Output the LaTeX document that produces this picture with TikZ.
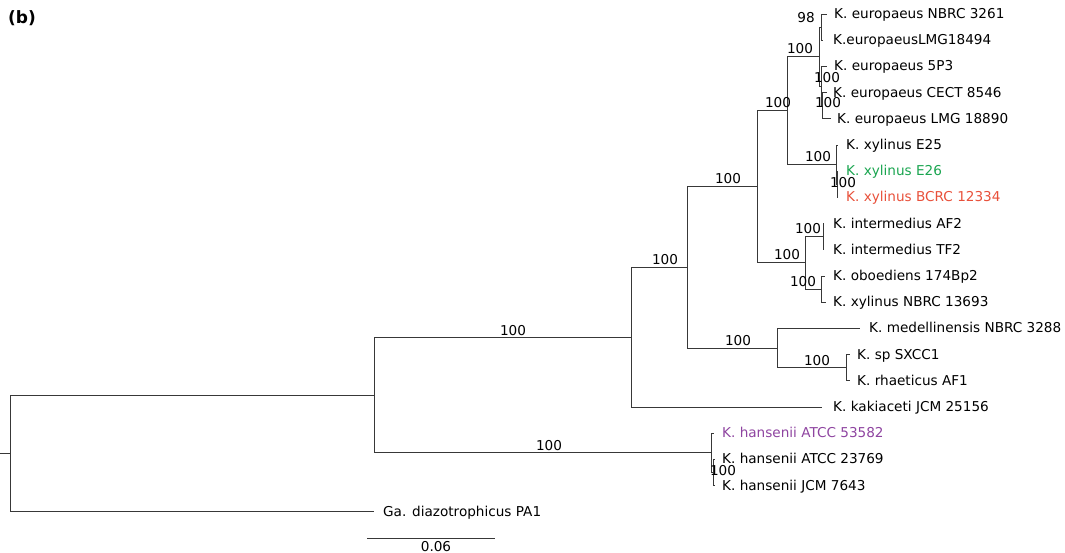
\documentclass[tikz,border=0pt]{standalone}
\usepackage{fontspec}
\setmainfont{DejaVu Sans}
\definecolor{tgreen}{HTML}{1AA550}
\definecolor{tred}{HTML}{E8503A}
\definecolor{tpurple}{HTML}{8E44A0}
\begin{document}
\begin{tikzpicture}[x=1pt,y=-1pt,
  br/.style={draw=black!78, line width=0.85pt},
  lf/.style={anchor=base west, inner sep=0pt, font=\fontsize{13.6}{15}\selectfont},
  bs/.style={anchor=base, inner sep=0pt, font=\fontsize{13.6}{15}\selectfont}]
\useasboundingbox (0,0) rectangle (1065,553);
% internal nodes
\coordinate (stub) at (0,453.4);
\coordinate (R) at (10,453.4);
\coordinate (N1) at (374,395.0);
\coordinate (N2) at (631,337.2);
\coordinate (H) at (711,452.85);
\coordinate (Hi) at (713,472.5);
\coordinate (N3) at (687,267.4);
\coordinate (N4) at (757,186.75);
\coordinate (N5) at (777,348.05);
\coordinate (N5b) at (846,367.7);
\coordinate (N6) at (787,110.6);
\coordinate (N7) at (805,262.9);
\coordinate (N8) at (819,56.6);
\coordinate (N9) at (836,164.65);
\coordinate (N13) at (837,184.3);
\coordinate (N10) at (821,27.1);
\coordinate (N11) at (821,86.05);
\coordinate (N12) at (822,105.7);
\coordinate (Ni) at (823,236.7);
\coordinate (No) at (821,289.1);
% leaf tips
\coordinate (T1) at (827,14.0);
\coordinate (T2) at (823,40.2);
\coordinate (T3) at (827,66.4);
\coordinate (T4) at (827,92.6);
\coordinate (T5) at (831,118.8);
\coordinate (T6) at (838,145.0);
\coordinate (T7) at (838,171.2);
\coordinate (T8) at (838,197.4);
\coordinate (T9) at (824,223.6);
\coordinate (T10) at (824,249.8);
\coordinate (T11) at (825,276.0);
\coordinate (T12) at (826,302.2);
\coordinate (T13) at (860,328.4);
\coordinate (T14) at (850,354.6);
\coordinate (T15) at (850,380.8);
\coordinate (T16) at (822,407.0);
\coordinate (T17) at (714,433.2);
\coordinate (T18) at (715,459.4);
\coordinate (T19) at (715,485.6);
\coordinate (T20) at (374,511.8);
% leaf labels
\node[lf] (L1) at (834,18.5) {K. europaeus NBRC 3261};
\node[lf] (L2) at (833,44.7) {K.europaeusLMG18494};
\node[lf] (L3) at (834,70.9) {K. europaeus 5P3};
\node[lf] (L4) at (833,97.1) {K. europaeus CECT 8546};
\node[lf] (L5) at (837,123.3) {K. europaeus LMG 18890};
\node[lf] (L6) at (846,149.5) {K. xylinus E25};
\node[lf, text=tgreen] (L7) at (846,175.7) {K. xylinus E26};
\node[lf, text=tred] (L8) at (846,201.9) {K. xylinus BCRC 12334};
\node[lf] (L9) at (833,228.1) {K. intermedius AF2};
\node[lf] (L10) at (833,254.3) {K. intermedius TF2};
\node[lf] (L11) at (833,280.5) {K. oboediens 174Bp2};
\node[lf] (L12) at (833,306.7) {K. xylinus NBRC 13693};
\node[lf] (L13) at (869,332.9) {K. medellinensis NBRC 3288};
\node[lf] (L14) at (857,359.1) {K. sp SXCC1};
\node[lf] (L15) at (857,385.3) {K. rhaeticus AF1};
\node[lf] (L16) at (833,411.5) {K. kakiaceti JCM 25156};
\node[lf, text=tpurple] (L17) at (722,437.7) {K. hansenii ATCC 53582};
\node[lf] (L18) at (722,463.9) {K. hansenii ATCC 23769};
\node[lf] (L19) at (722,490.1) {K. hansenii JCM 7643};
\node[lf] (L20) at (383,516.3) {Ga. diazotrophicus PA1};
% branches
\draw[br] (stub) -- (R);
\draw[br] (R) |- (N1);
\draw[br] (R) |- (T20);
\draw[br] (N1) |- (N2);
\draw[br] (N1) |- (H);
\draw[br] (N2) |- (N3);
\draw[br] (N2) |- (T16);
\draw[br] (N3) |- (N4);
\draw[br] (N3) |- (N5);
\draw[br] (N4) |- (N6);
\draw[br] (N4) |- (N7);
\draw[br] (N6) |- (N8);
\draw[br] (N6) |- (N9);
\draw[br] (N8) |- (N10);
\draw[br] (N8) |- (N11);
\draw[br] (N10) |- (T1);
\draw[br] (N10) |- (T2);
\draw[br] (N11) |- (T3);
\draw[br] (N11) |- (N12);
\draw[br] (N12) |- (T4);
\draw[br] (N12) |- (T5);
\draw[br] (N9) |- (T6);
\draw[br] (N9) |- (N13);
\draw[br] (N13) |- (T7);
\draw[br] (N13) |- (T8);
\draw[br] (N7) |- (Ni);
\draw[br] (N7) |- (No);
\draw[br] (Ni) |- (T9);
\draw[br] (Ni) |- (T10);
\draw[br] (No) |- (T11);
\draw[br] (No) |- (T12);
\draw[br] (N5) |- (T13);
\draw[br] (N5) |- (N5b);
\draw[br] (N5b) |- (T14);
\draw[br] (N5b) |- (T15);
\draw[br] (H) |- (T17);
\draw[br] (H) |- (Hi);
\draw[br] (Hi) |- (T18);
\draw[br] (Hi) |- (T19);
% bootstrap values
\node[bs] (b1) at (806,23) {98};
\node[bs] (b2) at (800,54) {100};
\node[bs] (b3) at (778,108) {100};
\node[bs] (b4) at (827,83) {100};
\node[bs] (b5) at (828,108) {100};
\node[bs] (b6) at (728,184) {100};
\node[bs] (b7) at (818,162) {100};
\node[bs] (b8) at (843,188) {100};
\node[bs] (b9) at (808,234) {100};
\node[bs] (b10) at (787,260) {100};
\node[bs] (b11) at (803,287) {100};
\node[bs] (b12) at (665,265) {100};
\node[bs] (b13) at (513,335) {100};
\node[bs] (b14) at (738,345) {100};
\node[bs] (b15) at (817,365) {100};
\node[bs] (b16) at (549,450) {100};
\node[bs] (b17) at (723,475) {100};
% scale bar
\coordinate (SB1) at (367,538);
\coordinate (SB2) at (495,538);
\draw[br] (SB1) -- (SB2);
\node[bs] (sbl) at (436,551) {0.06};
% panel label
\node[anchor=base west, inner sep=0pt, font=\fontsize{17}{19}\selectfont\bfseries] (panel) at (8,24) {(b)};
\end{tikzpicture}
\end{document}
